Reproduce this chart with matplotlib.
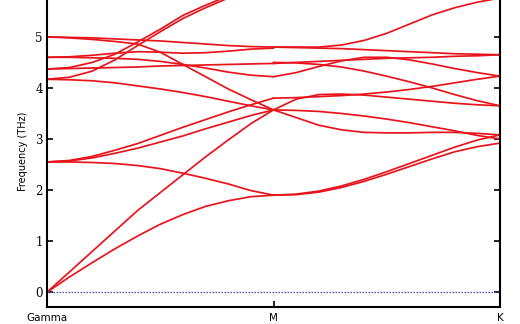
import numpy as np
import matplotlib
matplotlib.use("Agg")
import matplotlib.pyplot as plt

# k-path labels
kpoint_labels = ["Gamma", "M", "K"]
yticks = [0, 1, 2, 3, 4, 5]

# Band frequencies (THz), sampled every 0.1 of each path segment
# Gamma -> M
band_gm = {
    "TA":  [0.00, 0.30, 0.58, 0.85, 1.10, 1.33, 1.52, 1.68, 1.79, 1.87, 1.90],
    "LA":  [0.00, 0.40, 0.80, 1.20, 1.60, 1.95, 2.30, 2.65, 2.98, 3.30, 3.57],
    "O1":  [2.55, 2.55, 2.54, 2.52, 2.48, 2.42, 2.33, 2.23, 2.12, 1.99, 1.90],
    "O2":  [2.55, 2.58, 2.66, 2.78, 2.91, 3.07, 3.23, 3.38, 3.53, 3.67, 3.80],
    "O3":  [2.55, 2.57, 2.63, 2.72, 2.82, 2.94, 3.06, 3.20, 3.33, 3.46, 3.57],
    "B1":  [4.17, 4.16, 4.14, 4.10, 4.04, 3.98, 3.91, 3.83, 3.74, 3.65, 3.57],
    "Rb":  [4.17, 4.21, 4.33, 4.55, 4.83, 5.10, 5.36, 5.57, 5.76, 5.92, 6.05],
    "Ra":  [4.37, 4.40, 4.50, 4.66, 4.90, 5.15, 5.42, 5.62, 5.80, 5.95, 6.10],
    "F1":  [4.37, 4.38, 4.39, 4.40, 4.41, 4.43, 4.44, 4.45, 4.46, 4.47, 4.48],
    "F2":  [4.60, 4.60, 4.59, 4.58, 4.56, 4.52, 4.46, 4.39, 4.31, 4.25, 4.22],
    "P":   [4.60, 4.61, 4.64, 4.68, 4.71, 4.70, 4.68, 4.69, 4.72, 4.76, 4.78],
    "G1":  [5.00, 4.99, 4.98, 4.96, 4.94, 4.92, 4.89, 4.86, 4.83, 4.81, 4.80],
    "G2":  [5.00, 4.98, 4.95, 4.91, 4.86, 4.70, 4.46, 4.22, 3.98, 3.77, 3.57],
}
# M -> K
band_mk = {
    "T":   [4.80, 4.80, 4.80, 4.84, 4.93, 5.07, 5.25, 5.43, 5.57, 5.68, 5.76],
    "G1":  [4.80, 4.79, 4.78, 4.77, 4.75, 4.73, 4.71, 4.69, 4.67, 4.66, 4.65],
    "F1":  [4.48, 4.50, 4.52, 4.54, 4.56, 4.58, 4.59, 4.60, 4.62, 4.63, 4.65],
    "X":   [4.50, 4.49, 4.46, 4.41, 4.33, 4.23, 4.12, 4.00, 3.87, 3.75, 3.65],
    "Y":   [4.22, 4.30, 4.42, 4.53, 4.60, 4.60, 4.55, 4.47, 4.38, 4.30, 4.23],
    "O2":  [3.80, 3.81, 3.83, 3.85, 3.88, 3.92, 3.97, 4.03, 4.10, 4.17, 4.23],
    "W":   [3.57, 3.78, 3.87, 3.88, 3.86, 3.82, 3.78, 3.74, 3.70, 3.67, 3.65],
    "D1":  [3.57, 3.56, 3.54, 3.50, 3.45, 3.39, 3.32, 3.24, 3.16, 3.07, 3.00],
    "D2":  [3.57, 3.42, 3.27, 3.18, 3.13, 3.12, 3.12, 3.13, 3.13, 3.11, 3.08],
    "TA":  [1.90, 1.92, 1.98, 2.08, 2.21, 2.36, 2.52, 2.68, 2.84, 2.98, 3.08],
    "O1":  [1.90, 1.91, 1.96, 2.05, 2.17, 2.31, 2.46, 2.61, 2.75, 2.85, 2.92],
}
zero_line = [0.0, 0.0]

W_PX, H_PX, DPI = 520, 324, 100
fig = plt.figure(figsize=(W_PX / DPI, H_PX / DPI), dpi=DPI)
ax = fig.add_axes([47 / W_PX, 17 / H_PX, 453 / W_PX, 312 / H_PX])

n = len(next(iter(band_gm.values())))
x_gm = np.linspace(0.0, 1.0, n)
x_mk = np.linspace(1.0, 2.0, n)

red = "#e8141c"
for vals in band_gm.values():
    ax.plot(x_gm, vals, color=red, lw=1.25, solid_joinstyle="round")
for vals in band_mk.values():
    ax.plot(x_mk, vals, color=red, lw=1.25, solid_joinstyle="round")

ax.plot([0.0, 2.0], zero_line, color="#4a4ab8", lw=0.9, ls=(0, (1.2, 1.2)))

ax.set_xlim(0, 2)
ax.set_ylim(-0.29, 5.82)
ax.set_xticks([0, 1, 2])
ax.set_xticklabels(kpoint_labels, family="DejaVu Sans", fontsize=7.5)
ax.set_yticks(yticks)
ax.set_yticklabels([str(v) for v in yticks], family="DejaVu Serif", fontsize=8.5)
ax.tick_params(axis="both", direction="in", length=4, width=1.2,
               right=True, top=False)
ax.tick_params(axis="y", pad=3)
ax.tick_params(axis="x", pad=4)
for s in ["left", "right", "bottom"]:
    ax.spines[s].set_linewidth(1.5)
ax.spines["top"].set_visible(False)
ax.set_ylabel("Frequency (THz)", family="DejaVu Sans", fontsize=7, labelpad=5)

fig.savefig("out.png", dpi=DPI)
